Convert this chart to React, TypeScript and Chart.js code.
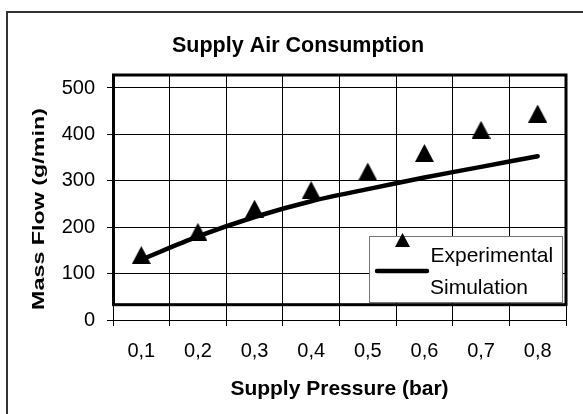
import React, { useEffect, useRef } from 'react';
import { Chart, registerables } from 'chart.js';

Chart.register(...registerables);

const pressureLabels = ['0,1', '0,2', '0,3', '0,4', '0,5', '0,6', '0,7', '0,8'];
const experimentalFlow = [140, 190, 240, 280, 320, 360, 410, 445];
const simulationFlow = [130, 180, 222, 256, 282, 307, 330, 353];
const yTickValues = [0, 100, 200, 300, 400, 500];
const yMax = 528;
const boxBottomValue = 33;

const FONT = '"Liberation Sans", Arial, sans-serif';

function makeTriangle(w: number, h: number): HTMLCanvasElement {
  const c = document.createElement('canvas');
  c.width = w;
  c.height = h;
  const g = c.getContext('2d')!;
  g.fillStyle = '#000';
  g.beginPath();
  g.moveTo(w / 2, 0);
  g.lineTo(w, h);
  g.lineTo(0, h);
  g.closePath();
  g.fill();
  return c;
}

const excelChrome = {
  id: 'excelChrome',
  beforeDraw(chart: any) {
    const ctx = chart.ctx;
    ctx.save();
    ctx.fillStyle = '#fff';
    ctx.fillRect(0, 0, chart.width, chart.height);
    ctx.strokeStyle = '#333';
    ctx.lineWidth = 2;
    ctx.strokeRect(7, 12, chart.width + 20, chart.height + 20);
    ctx.restore();
  },
  afterDatasetsDraw(chart: any) {
    const ctx = chart.ctx;
    const a = chart.chartArea;
    const y = chart.scales.y;
    const bottom = y.getPixelForValue(boxBottomValue);
    ctx.save();
    ctx.strokeStyle = '#000';
    ctx.lineWidth = 3;
    ctx.strokeRect(a.left + 0.5, a.top, a.right - a.left - 0.5, bottom - a.top);
    ctx.restore();
  },
  afterDraw(chart: any) {
    const ctx = chart.ctx;
    const a = chart.chartArea;
    ctx.save();
    ctx.fillStyle = '#000';
    // title
    ctx.font = `bold 21.5px ${FONT}`;
    ctx.textAlign = 'center';
    ctx.textBaseline = 'alphabetic';
    ctx.fillText('Supply Air Consumption', 298, 52);
    // x title
    ctx.font = `bold 21px ${FONT}`;
    ctx.fillText('Supply Pressure (bar)', (a.left + a.right) / 2, 394.5);
    // y title
    ctx.save();
    ctx.translate(39, 209);
    ctx.rotate(-Math.PI / 2);
    ctx.scale(1.37, 1);
    ctx.font = `bold 17px ${FONT}`;
    ctx.textBaseline = 'middle';
    ctx.fillText('Mass Flow (g/min)', 0, 0);
    ctx.restore();

    // legend
    const lx = 369.5, ly = 236.5, lw = 193, lh = 66;
    ctx.fillStyle = '#fff';
    ctx.fillRect(lx, ly, lw, lh);
    ctx.strokeStyle = '#777';
    ctx.lineWidth = 1;
    ctx.strokeRect(lx, ly, lw, lh);
    const tri = makeTriangle(15, 14);
    ctx.drawImage(tri, 395, 233);
    ctx.strokeStyle = '#000';
    ctx.lineWidth = 4.5;
    ctx.lineCap = 'round';
    ctx.beginPath();
    ctx.moveTo(377, 271);
    ctx.lineTo(427, 271);
    ctx.stroke();
    ctx.fillStyle = '#000';
    ctx.font = `21px ${FONT}`;
    ctx.textAlign = 'left';
    ctx.textBaseline = 'alphabetic';
    ctx.fillText('Experimental', 430.5, 261.5);
    ctx.fillText('Simulation', 430, 293.5);
    ctx.restore();
  },
};

export default function App() {
  const ref = useRef<HTMLCanvasElement>(null);
  useEffect(() => {
    if (!ref.current) return;
    const triangle = makeTriangle(19, 18);
    const chart = new Chart(ref.current, {
      type: 'line',
      data: {
        labels: pressureLabels,
        datasets: [
          {
            label: 'Simulation',
            data: simulationFlow,
            borderColor: '#000',
            backgroundColor: '#000',
            borderWidth: 4.5,
            borderCapStyle: 'round',
            pointRadius: 0,
            tension: 0.3,
            fill: false,
          },
          {
            label: 'Experimental',
            data: experimentalFlow,
            showLine: false,
            pointStyle: triangle as any,
            pointRadius: 9,
            borderColor: '#000',
            backgroundColor: '#000',
          },
        ],
      },
      options: {
        responsive: false,
        animation: false,
        events: [],
        layout: { padding: { top: 75, right: 17, left: 0, bottom: 0 } },
        plugins: {
          legend: { display: false },
          title: { display: false },
          tooltip: { enabled: false },
        },
        scales: {
          x: {
            type: 'category',
            offset: true,
            grid: { offset: true, color: '#000', lineWidth: 1, tickLength: 6, drawTicks: true },
            border: { display: true, color: '#000', width: 1 },
            ticks: { color: '#000', font: { family: FONT, size: 20 }, padding: 13, maxRotation: 0 },
            afterFit: (s: any) => { s.height = 94; },
          },
          y: {
            type: 'linear',
            min: 0,
            max: yMax,
            afterBuildTicks: (s: any) => { s.ticks = yTickValues.map((v) => ({ value: v })); },
            grid: { color: '#000', lineWidth: 1, tickLength: 6, drawTicks: true },
            border: { display: true, color: '#000', width: 1 },
            ticks: { color: '#000', font: { family: FONT, size: 20 }, padding: 12 },
            afterFit: (s: any) => { s.width = 113; },
          },
        },
      },
      plugins: [excelChrome],
    });
    return () => chart.destroy();
  }, []);
  return (
    <div style={{ position: 'absolute', left: 0, top: 0, width: 583, height: 414 }}>
      <canvas ref={ref} width={583} height={414} />
    </div>
  );
}
